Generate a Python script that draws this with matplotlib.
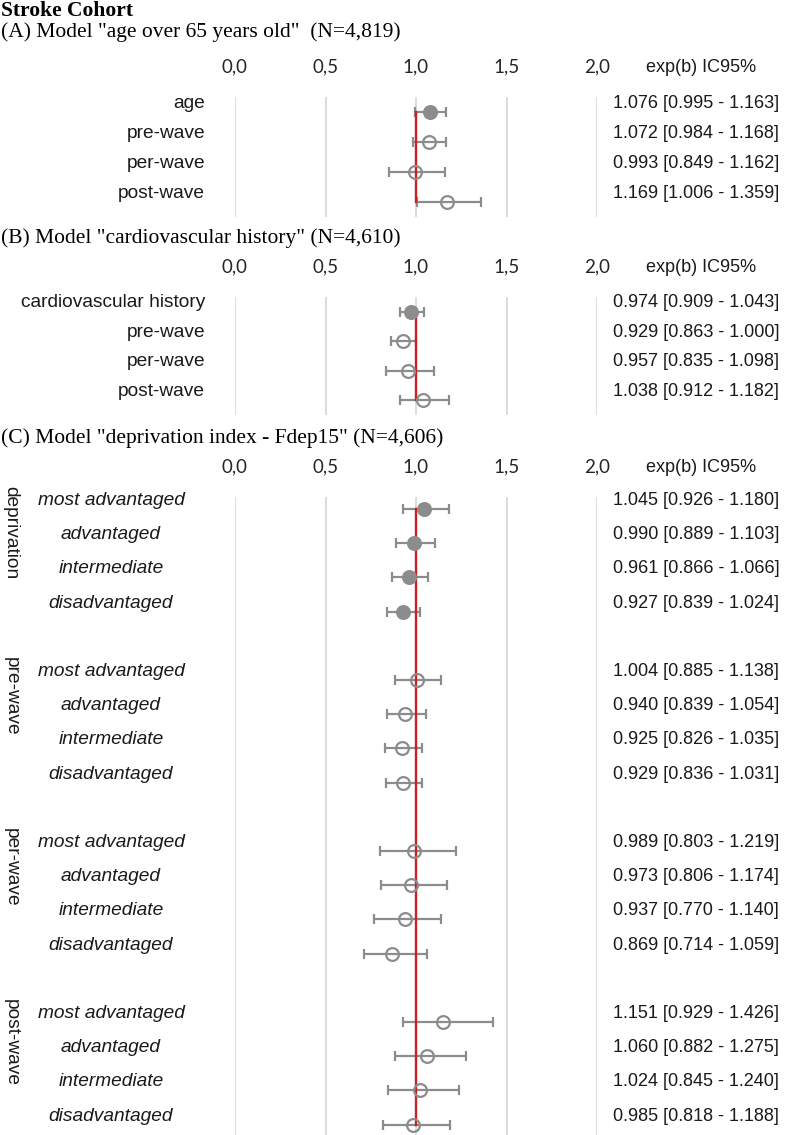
import matplotlib
matplotlib.use("Agg")
import matplotlib.pyplot as plt
import numpy as np
from matplotlib import transforms as mtransforms

# ---------------- data ----------------
main_title = "Stroke Cohort"
panel_titles = ['(A) Model "age over 65 years old"  (N=4,819)',
                '(B) Model "cardiovascular history" (N=4,610)',
                '(C) Model "deprivation index - Fdep15" (N=4,606)']
x_ticks = [0.0, 0.5, 1.0, 1.5, 2.0]
x_tick_labels = ["0,0", "0,5", "1,0", "1,5", "2,0"]
value_header = "exp(b) IC95%"

a_labels = ["age", "pre-wave", "per-wave", "post-wave"]
a_est = [1.076, 1.072, 0.993, 1.169]
a_lo = [0.995, 0.984, 0.849, 1.006]
a_hi = [1.163, 1.168, 1.162, 1.359]
a_filled = [True, False, False, False]

b_labels = ["cardiovascular history", "pre-wave", "per-wave", "post-wave"]
b_est = [0.974, 0.929, 0.957, 1.038]
b_lo = [0.909, 0.863, 0.835, 0.912]
b_hi = [1.043, 1.000, 1.098, 1.182]
b_filled = [True, False, False, False]

c_groups = ["deprivation", "pre-wave", "per-wave", "post-wave"]
c_levels = ["most advantaged", "advantaged", "intermediate", "disadvantaged"]
c_est = [[1.045, 0.990, 0.961, 0.927],
         [1.004, 0.940, 0.925, 0.929],
         [0.989, 0.973, 0.937, 0.869],
         [1.151, 1.060, 1.024, 0.985]]
c_lo = [[0.926, 0.889, 0.866, 0.839],
        [0.885, 0.839, 0.826, 0.836],
        [0.803, 0.806, 0.770, 0.714],
        [0.929, 0.882, 0.845, 0.818]]
c_hi = [[1.180, 1.103, 1.066, 1.024],
        [1.138, 1.054, 1.035, 1.031],
        [1.219, 1.174, 1.140, 1.059],
        [1.426, 1.275, 1.240, 1.188]]
c_filled_group = [True, False, False, False]

# ---------------- style ----------------
W, H = 788, 1135
GRAY = "#8c8c8c"
GRID = "#dcdcdc"
RED = "#cc1f1f"
SANS = ["Liberation Sans", "DejaVu Sans"]
SERIF = ["Liberation Serif", "DejaVu Serif"]
TICKF = ["Lato", "DejaVu Sans"]
FS = 13
LFS = 13.8
TFS = 15.5

fig = plt.figure(figsize=(W / 100, H / 100), dpi=100)


def fx(px):
    return px / W


def fy(px):
    return 1 - px / H


def px_off(dx, dy):
    return mtransforms.ScaledTranslation(dx / 100, dy / 100, fig.dpi_scale_trans)


def make_panel(top, bottom, ylim):
    ax = fig.add_axes([fx(235), fy(bottom), fx(597) - fx(235), (bottom - top) / H])
    ax.set_xlim(0, 2)
    ax.set_ylim(*ylim)
    ax.axis("off")
    for t in x_ticks:
        ax.axvline(t, color=GRID, lw=1.4, zorder=0)
    tr = mtransforms.blended_transform_factory(ax.transData, ax.transAxes) + px_off(0, 25)
    for t, lab in zip(x_ticks, x_tick_labels):
        ax.text(t, 1, lab, transform=tr, ha="center", va="baseline",
                fontsize=13.5, family=TICKF, color="#262626")
    trh = mtransforms.blended_transform_factory(fig.transFigure, ax.transAxes) + px_off(0, 25)
    ax.text(fx(646), 1, value_header, transform=trh, ha="left", va="baseline",
            fontsize=FS, family=SANS, color="#1a1a1a")
    return ax


def draw_points(ax, rows, est, lo, hi, filled):
    est = np.asarray(est); lo = np.asarray(lo); hi = np.asarray(hi); rows = np.asarray(rows)
    ax.errorbar(est, rows, xerr=[est - lo, hi - est], fmt="none", ecolor=GRAY,
                elinewidth=1.6, capsize=3.6, capthick=1.6, zorder=2)
    for e, r, f in zip(est, rows, filled):
        ax.plot([e], [r], "o", ms=9.2, mfc=GRAY if f else "none", mec=GRAY,
                mew=1.6, zorder=4)


def value_text(e, l, h):
    return f"{e:.3f} [{l:.3f} - {h:.3f}]"


def row_labels(ax, rows, texts, x_px, ha, style="normal", dy=9):
    tr = mtransforms.blended_transform_factory(fig.transFigure, ax.transData) + px_off(0, dy)
    for r, t in zip(rows, texts):
        ax.text(fx(x_px), r, t, transform=tr, ha=ha, va="center", fontsize=LFS,
                family=SANS, style=style, color="#1a1a1a")


def values(ax, rows, est, lo, hi, dy=9):
    tr = mtransforms.blended_transform_factory(fig.transFigure, ax.transData) + px_off(0, dy)
    for r, e, l, h in zip(rows, est, lo, hi):
        ax.text(fx(613), r, value_text(e, l, h), transform=tr, ha="left", va="center",
                fontsize=FS, family=SANS, color="#1a1a1a")


# titles
fig.text(fx(1), fy(16.5), main_title, fontsize=TFS, family=SERIF, weight="bold",
         ha="left", va="baseline")
title_y = [37, 243.5, 443]
for ty, tt in zip(title_y, panel_titles):
    fig.text(fx(1), fy(ty), tt, fontsize=TFS, family=SERIF, ha="left", va="baseline")

# Panel A
axA = make_panel(97, 217, (3.5, -0.5))
rowsA = np.arange(len(a_labels))
axA.plot([1, 1], [rowsA[0], rowsA[-1]], color=RED, lw=1.7, zorder=3)
draw_points(axA, rowsA, a_est, a_lo, a_hi, a_filled)
row_labels(axA, rowsA, a_labels, 205, "right")
values(axA, rowsA, a_est, a_lo, a_hi)

# Panel B
axB = make_panel(297, 415, (3.5, -0.5))
rowsB = np.arange(len(b_labels))
axB.plot([1, 1], [rowsB[0], rowsB[-1]], color=RED, lw=1.7, zorder=3)
draw_points(axB, rowsB, b_est, b_lo, b_hi, b_filled)
row_labels(axB, rowsB, b_labels, 205, "right")
values(axB, rowsB, b_est, b_lo, b_hi)

# Panel C
row_h = 34.2
axC = make_panel(497, 1135, ((1135 - 509) / row_h, -12 / row_h))
n_lv = len(c_levels)
all_rows = []
for g, gname in enumerate(c_groups):
    rows = np.arange(n_lv) + g * (n_lv + 1)
    all_rows.extend(rows)
    draw_points(axC, rows, c_est[g], c_lo[g], c_hi[g], [c_filled_group[g]] * n_lv)
    row_labels(axC, rows, c_levels, 111, "center", style="italic", dy=8.5)
    values(axC, rows, c_est[g], c_lo[g], c_hi[g], dy=8.5)
    trg = mtransforms.blended_transform_factory(fig.transFigure, axC.transData) + px_off(0, 23)
    axC.text(fx(11), rows[0], gname, transform=trg, rotation=-90, ha="center", va="top",
             fontsize=LFS, family=SANS, color="#1a1a1a")
axC.plot([1, 1], [all_rows[0], all_rows[-1]], color=RED, lw=1.7, zorder=3)

fig.savefig("out.png", dpi=100)
